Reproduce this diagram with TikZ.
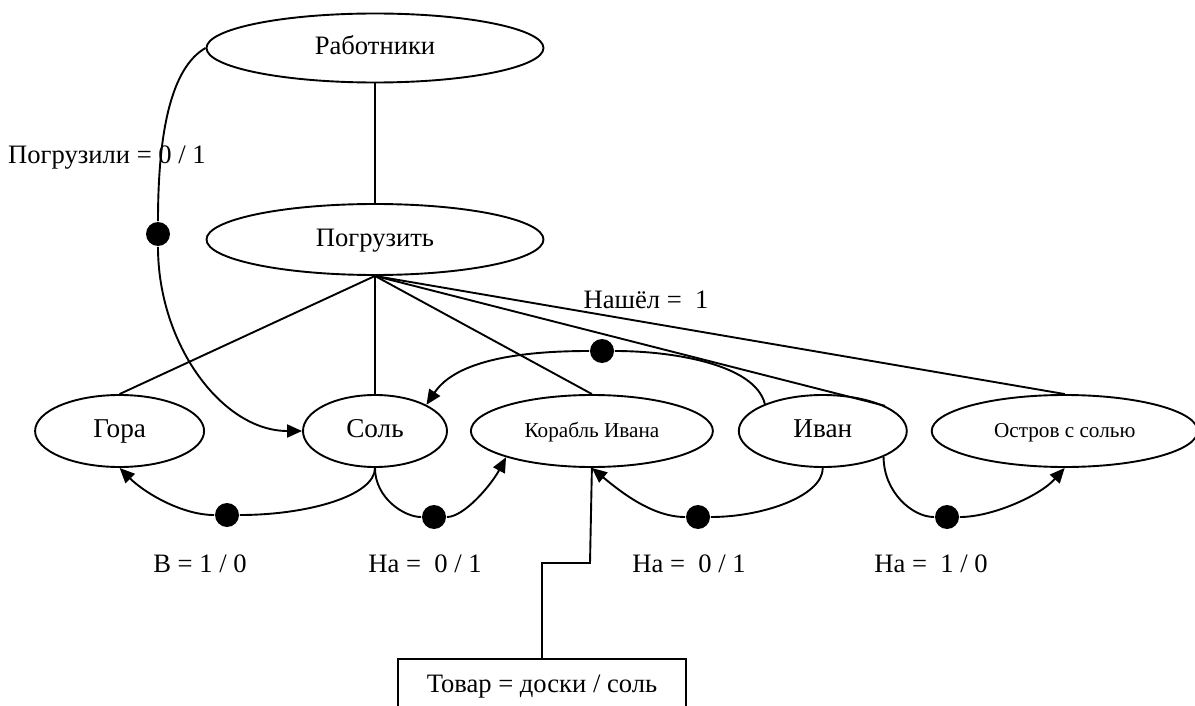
\documentclass[tikz,border=0pt]{standalone}
\usepackage{fontspec}
\setmainfont{Liberation Serif}
\usetikzlibrary{calc}
\usetikzlibrary{positioning}
\usetikzlibrary{shapes.geometric}
\usetikzlibrary{arrows.meta}

\begin{document}
\begin{tikzpicture}[x=0.5pt, y=0.5pt, line width=0.95pt, >={Triangle[length=7.5pt,width=6.5pt]}]
    \tikzstyle{thing}=[draw, ellipse, inner sep=0pt, minimum height=36pt, text height=9pt, text depth=2.5pt]
    \tikzstyle{slot}=[circle, fill, inner sep=0pt, minimum size=12pt]
    \tikzstyle{bigtext}=[font=\fontsize{13.6}{16}\selectfont]
    \tikzstyle{smalltext}=[font=\fontsize{10.6}{12}\selectfont]
    \tikzstyle{lbl}=[font=\fontsize{13.3}{15}\selectfont]

    \useasboundingbox (0, 0) rectangle (1195, -706);

    % Workers and the action
    \node[thing, lbl, minimum width=168.5pt, minimum height=34.5pt] (workers) at (375, -48) {Работники};
    \node[thing, lbl, minimum width=168.5pt, minimum height=35.5pt] (load) at (375, -239.5) {Погрузить};
    \draw (workers.south) -- (load.north);

    % Participants
    \node[thing, bigtext, minimum width=72pt] (salt) at (375, -431) {Соль};
    \node[thing, bigtext, minimum width=84.5pt, left=48.5pt of salt] (mountain) {Гора};
    \node[thing, smalltext, minimum width=121pt, right=11pt of salt] (ship) {Корабль Ивана};
    \node[thing, bigtext, minimum width=84pt, right=12pt of ship] (ivan) {Иван};
    \node[thing, smalltext, minimum width=133pt, right=11.5pt of ivan] (island) {Остров с солью};

    \foreach \n in {mountain, salt, ship}
      \draw (load.south) -- (\n.north);
    \draw (load.south) -- (ivan.22);
    \draw (load.south) -- (island.north);

    % Relations
    \node[slot] (d0) at (158, -234) {};
    \node[slot] (d1) at (602, -351) {};
    \node[slot] (d2) at (227, -515) {};
    \node[slot] (d3) at (434, -517) {};
    \node[slot] (d4) at (698, -517) {};
    \node[slot] (d5) at (947, -517) {};

    \draw (workers.west) .. controls +(-35,-20) and +(0,100) .. (d0);
    \draw[->] (d0) .. controls +(0,-110) and +(-80,0) .. (salt.west);
    \draw (ivan.155) .. controls +(-10,40) and +(70,0) .. (d1);
    \draw[->] (d1) .. controls +(-80,0) and +(30,45) .. (salt.27);
    \draw (salt.south) .. controls +(0,-28) and +(80,0) .. (d2);
    \draw[->] (d2) .. controls +(-45,0) and +(25,-25) .. (mountain.south);
    \draw (salt.south) .. controls +(0,-30) and +(-30,0) .. (d3);
    \draw[->] (d3) .. controls +(30,0) and +(-15,-28) .. (ship.197);
    \draw (ivan.south) .. controls +(0,-28) and +(65,0) .. (d4);
    \draw[->] (d4) .. controls +(-45,0) and +(30,-25) .. (ship.south);
    \draw (ivan.-23) .. controls +(0,-35) and +(-35,0) .. (d5);
    \draw[->] (d5) .. controls +(45,0) and +(-25,-28) .. (island.south);

    % Values
    \node[lbl] (loaded) at (107, -158) {Погрузили = 0 / 1};
    \node[lbl] (found) at (646, -300) {Нашёл =\ \ 1};
    \node[lbl] (inmount) at (200, -564) {В = 1 / 0};
    \node[lbl] (onship) at (425, -564) {На =\ \ 0 / 1};
    \node[lbl] (ivanship) at (689, -564) {На =\ \ 0 / 1};
    \node[lbl] (onisland) at (931, -564) {На =\ \ 1 / 0};

    % Goods
    \node[draw, lbl, minimum width=144pt, minimum height=28pt] (goods) at (542, -687) {Товар = доски / соль\hspace{7pt}};
    \coordinate (bend) at (590, -563);
    \draw (goods.north) |- (bend) -- (ship.south);
\end{tikzpicture}
\end{document}
